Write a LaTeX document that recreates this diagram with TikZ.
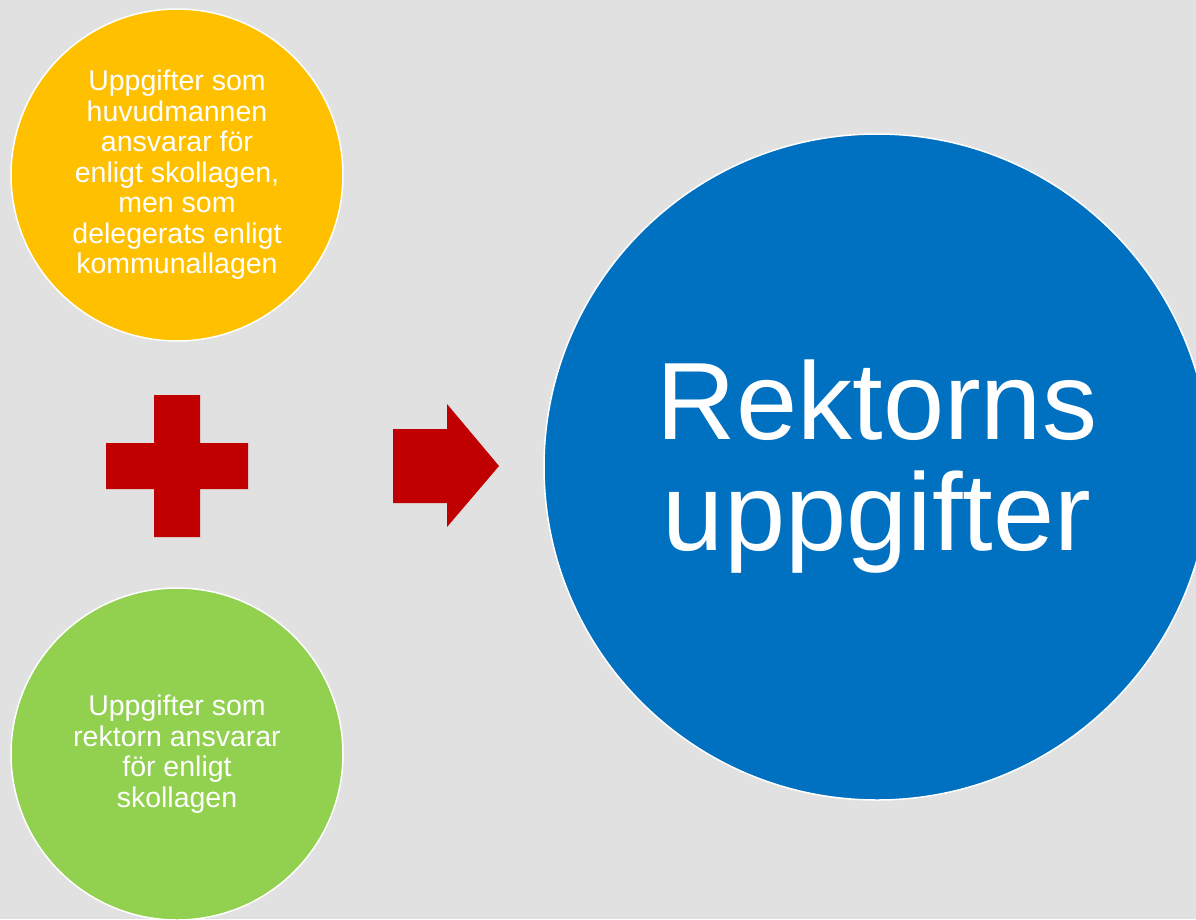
\documentclass[tikz,border=0pt]{standalone}
\usepackage{fontspec}
\setmainfont{Liberation Sans}
\definecolor{bggray}{HTML}{E1E1E1}
\definecolor{gul}{HTML}{FFC000}
\definecolor{gron}{HTML}{92D050}
\definecolor{bla}{HTML}{0070C0}
\definecolor{rod}{HTML}{C00000}
\begin{document}
\begin{tikzpicture}[x=1pt,y=-1pt,
  boll/.style={circle, draw=white, line width=1.5pt, inner sep=0pt, text=white, align=center},
  smal/.style={font=\fontsize{28.5}{30.5}\selectfont},
  stor/.style={font=\fontsize{110}{111}\selectfont}]
\useasboundingbox (0,0) rectangle (1196,919);
\clip (0,0) rectangle (1196,919);
\fill[bggray] (0,0) rectangle (1196,919);
\node[boll, smal, fill=gul, minimum size=332pt] (huvud) at (177,175) {Uppgifter som\\huvudmannen\\ansvarar för\\enligt skollagen,\\men som\\delegerats enligt\\kommunallagen};
\node[boll, smal, fill=gron, minimum size=332pt] (rektor) at (177,754) {Uppgifter som\\rektorn ansvarar\\för enligt\\skollagen};
\node[boll, stor, fill=bla, minimum size=666pt] (summa) at (877,467) {Rektorns\\uppgifter};
% plus och pil
\fill[rod] (106,443) -- (154,443) -- (154,395) -- (200,395) -- (200,443) -- (248,443) -- (248,489) -- (200,489) -- (200,537) -- (154,537) -- (154,489) -- (106,489) -- cycle;
\fill[rod] (393,429) -- (447,429) -- (447,404) -- (499,466) -- (447,527) -- (447,503) -- (393,503) -- cycle;
\end{tikzpicture}
\end{document}
